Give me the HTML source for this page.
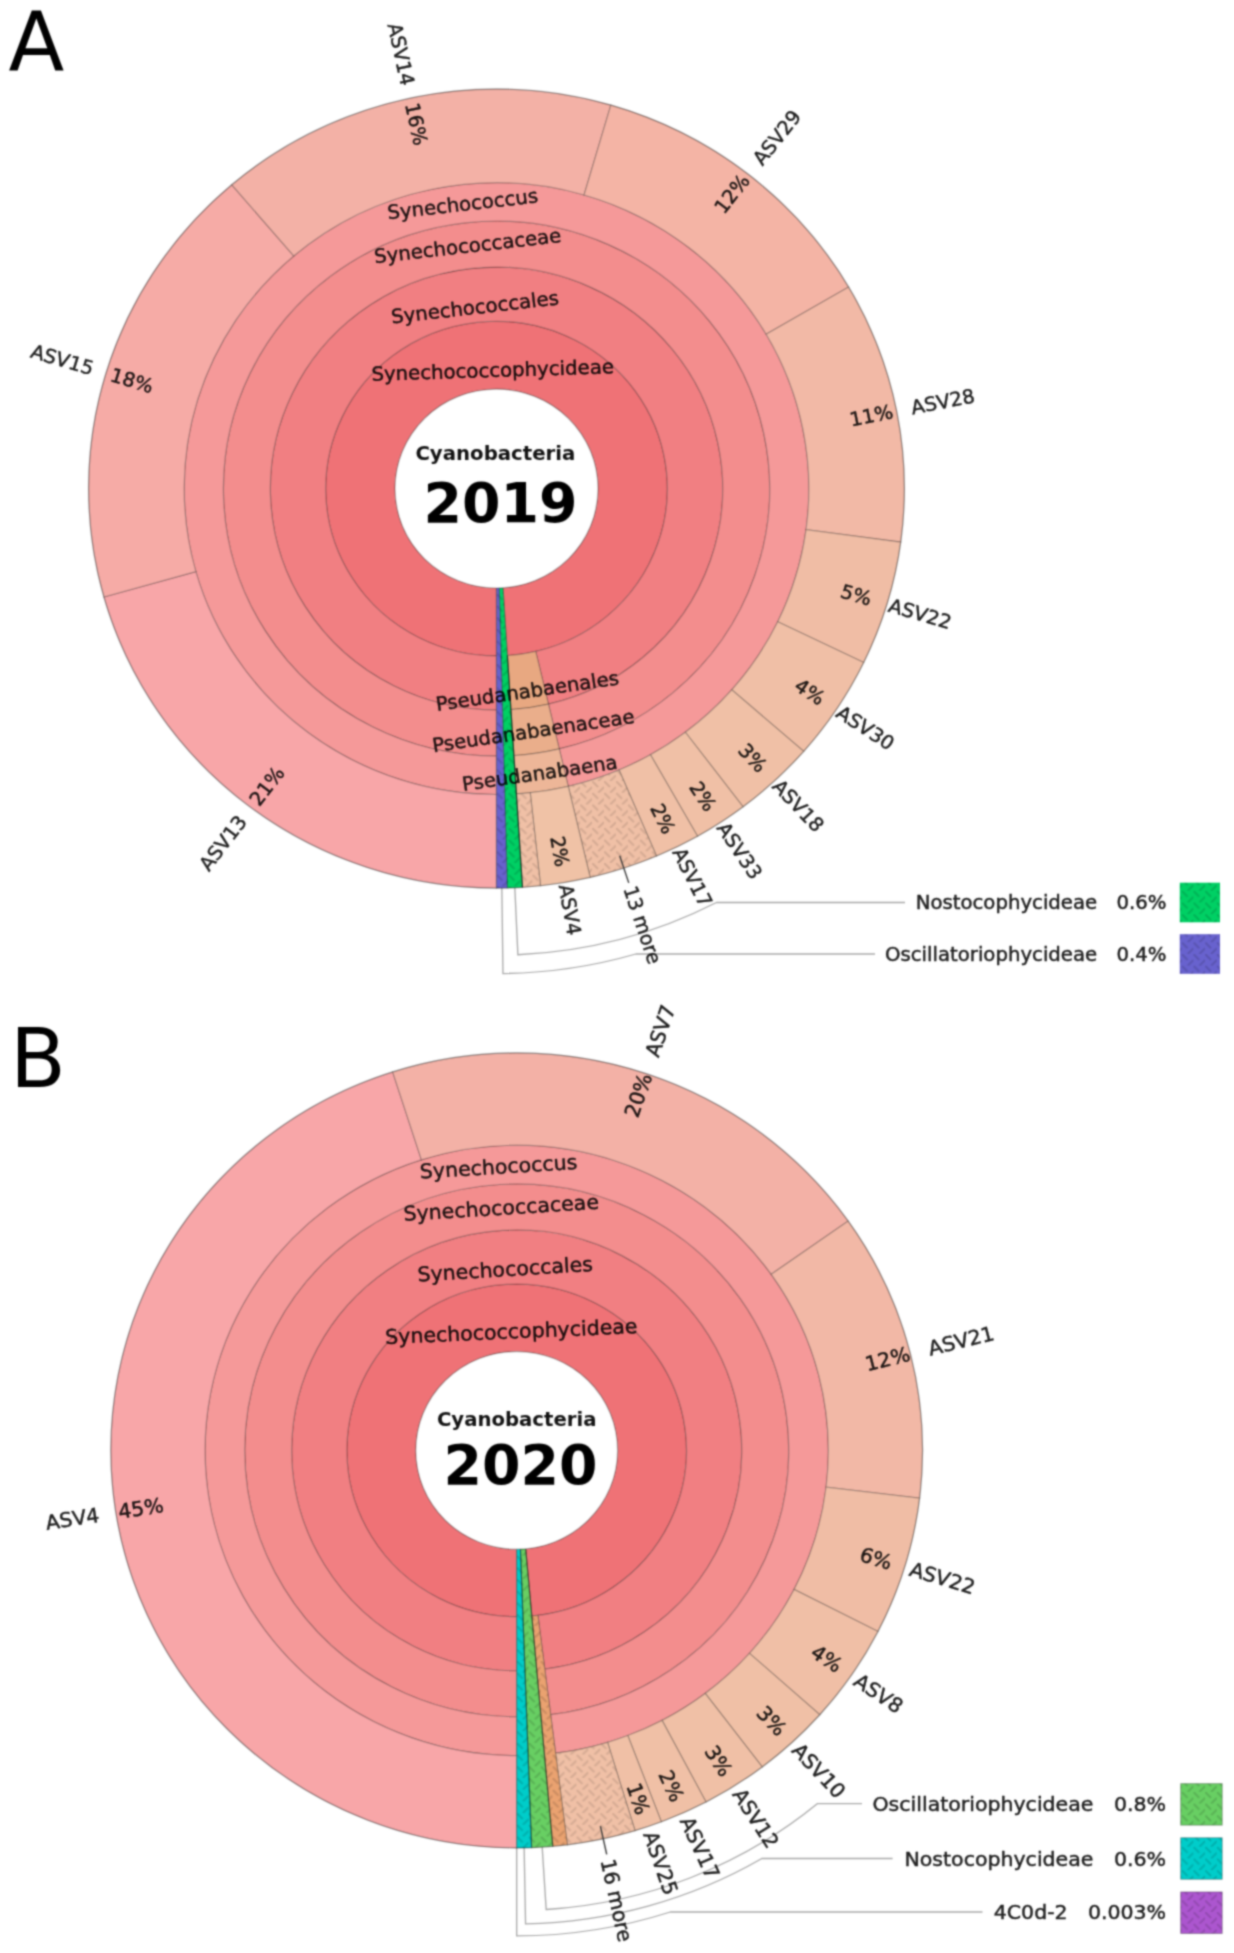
<!DOCTYPE html>
<html lang="en"><head><meta charset="utf-8"><title>Cyanobacteria Krona charts 2019 / 2020</title>
<style>html,body{margin:0;padding:0;background:#fff}svg{display:block}text{white-space:pre}.t text{fill:#000;fill-opacity:.87;stroke:#000;stroke-opacity:.87;stroke-width:0.45px}</style></head><body>
<svg width="1234" height="1953" viewBox="0 0 1234 1953">
<defs>
<pattern id="hp" width="11.7" height="11.7" patternUnits="userSpaceOnUse"><path d="M0.7 0.7L5.3 5.3M6.55 11.15L11.15 6.55" stroke="#000" stroke-opacity="0.115" stroke-width="2.1" stroke-linecap="round" fill="none"/></pattern>
<pattern id="hk" width="11.7" height="11.7" patternUnits="userSpaceOnUse"><path d="M0.7 0.7L5.3 5.3M6.55 11.15L11.15 6.55" stroke="#000" stroke-opacity="0.14" stroke-width="2.1" stroke-linecap="round" fill="none"/></pattern>
<filter id="soft" x="-10" y="-10" width="1254" height="1973" filterUnits="userSpaceOnUse" color-interpolation-filters="sRGB"><feConvolveMatrix order="5" kernelMatrix="0.00090 0.00660 0.01500 0.00660 0.00090 0.00660 0.04840 0.11000 0.04840 0.00660 0.01500 0.11000 0.25000 0.11000 0.01500 0.00660 0.04840 0.11000 0.04840 0.00660 0.00090 0.00660 0.01500 0.00660 0.00090" divisor="1" edgeMode="duplicate" preserveAlpha="true"/></filter>
</defs>
<g filter="url(#soft)">
<rect x="-10" y="-10" width="1254" height="1973" fill="#fff"/>
<g transform="translate(496.5 488.6) scale(1.021 1)" font-family='"DejaVu Sans", "Liberation Sans", sans-serif' font-size="19.3" class="t">
<path d="M17.95 399.1L20.96 466.13A466.6 466.6 0 0 0 215.41 413.9L400.1 413.9" fill="none" stroke="#a9a9a9" stroke-width="1.3"/>
<path d="M5.23 399.47L6.35 484.96A485 485 0 0 0 136.48 465.4L370.71 465.4" fill="none" stroke="#a9a9a9" stroke-width="1.3"/>
<path d="M-0 167.3A167.3 167.3 0 1 1 10.65 166.96L6.33 99.2A99.4 99.4 0 1 0 -0 99.4Z" fill="#EF7276" stroke="#000" stroke-opacity="0.24" stroke-width="1.2"/>
<path d="M-0 221.5A221.5 221.5 0 1 1 50.88 215.58L38.43 162.83A167.3 167.3 0 1 0 -0 167.3Z" fill="#F17F82" stroke="#000" stroke-opacity="0.24" stroke-width="1.2"/>
<path d="M-0 267.5A267.5 267.5 0 1 1 61.45 260.35L50.88 215.58A221.5 221.5 0 1 0 -0 221.5Z" fill="#F38D8D" stroke="#000" stroke-opacity="0.24" stroke-width="1.2"/>
<path d="M-0 305.9A305.9 305.9 0 1 1 70.27 297.72L61.45 260.35A267.5 267.5 0 1 0 -0 267.5Z" fill="#F59999" stroke="#000" stroke-opacity="0.24" stroke-width="1.2"/>
<path d="M50.88 215.58A221.5 221.5 0 0 1 14.1 221.05L10.65 166.96A167.3 167.3 0 0 0 38.43 162.83Z" fill="#E8A881" stroke="#000" stroke-opacity="0.24" stroke-width="1.2"/>
<path d="M61.45 260.35A267.5 267.5 0 0 1 17.03 266.96L14.1 221.05A221.5 221.5 0 0 0 50.88 215.58Z" fill="#EAAE8B" stroke="#000" stroke-opacity="0.24" stroke-width="1.2"/>
<path d="M70.27 297.72A305.9 305.9 0 0 1 19.47 305.28L17.03 266.96A267.5 267.5 0 0 0 61.45 260.35Z" fill="#EDB698" stroke="#000" stroke-opacity="0.24" stroke-width="1.2"/>
<path d="M-0 399.5A399.5 399.5 0 0 1 -384.52 108.37L-294.43 82.98A305.9 305.9 0 0 0 -0 305.9Z" fill="#F8A6A8" stroke="#000" stroke-opacity="0.24" stroke-width="1.2"/>
<path d="M-384.52 108.37A399.5 399.5 0 0 1 -259.35 -303.87L-198.58 -232.68A305.9 305.9 0 0 0 -294.43 82.98Z" fill="#F6ABA6" stroke="#000" stroke-opacity="0.24" stroke-width="1.2"/>
<path d="M-259.35 -303.87A399.5 399.5 0 0 1 111.99 -383.48L85.75 -293.63A305.9 305.9 0 0 0 -198.58 -232.68Z" fill="#F3B1A6" stroke="#000" stroke-opacity="0.24" stroke-width="1.2"/>
<path d="M111.99 -383.48A399.5 399.5 0 0 1 344.93 -201.56L264.11 -154.34A305.9 305.9 0 0 0 85.75 -293.63Z" fill="#F4B4A5" stroke="#000" stroke-opacity="0.24" stroke-width="1.2"/>
<path d="M344.93 -201.56A399.5 399.5 0 0 1 395.9 53.53L303.14 40.99A305.9 305.9 0 0 0 264.11 -154.34Z" fill="#F2B9A6" stroke="#000" stroke-opacity="0.24" stroke-width="1.2"/>
<path d="M395.9 53.53A399.5 399.5 0 0 1 359.68 173.87L275.41 133.14A305.9 305.9 0 0 0 303.14 40.99Z" fill="#F0BDA5" stroke="#000" stroke-opacity="0.24" stroke-width="1.2"/>
<path d="M359.68 173.87A399.5 399.5 0 0 1 300.91 262.78L230.41 201.21A305.9 305.9 0 0 0 275.41 133.14Z" fill="#F0BFA6" stroke="#000" stroke-opacity="0.24" stroke-width="1.2"/>
<path d="M300.91 262.78A399.5 399.5 0 0 1 241.54 318.21L184.95 243.66A305.9 305.9 0 0 0 230.41 201.21Z" fill="#F0C0A6" stroke="#000" stroke-opacity="0.24" stroke-width="1.2"/>
<path d="M241.54 318.21A399.5 399.5 0 0 1 196.91 347.6L150.77 266.16A305.9 305.9 0 0 0 184.95 243.66Z" fill="#F0C0A6" stroke="#000" stroke-opacity="0.24" stroke-width="1.2"/>
<path d="M196.91 347.6A399.5 399.5 0 0 1 156.74 367.47L120.02 281.37A305.9 305.9 0 0 0 150.77 266.16Z" fill="#F0C0A6" stroke="#000" stroke-opacity="0.24" stroke-width="1.2"/>
<path d="M156.74 367.47A399.5 399.5 0 0 1 91.77 388.82L70.27 297.72A305.9 305.9 0 0 0 120.02 281.37Z" fill="#F0C0A6" stroke="#000" stroke-opacity="0.24" stroke-width="1.2"/>
<path d="M156.74 367.47A399.5 399.5 0 0 1 91.77 388.82L70.27 297.72A305.9 305.9 0 0 0 120.02 281.37Z" fill="url(#hp)" stroke="none"/>
<path d="M91.77 388.82A399.5 399.5 0 0 1 43.15 397.16L33.04 304.11A305.9 305.9 0 0 0 70.27 297.72Z" fill="#F0C2A6" stroke="#000" stroke-opacity="0.24" stroke-width="1.2"/>
<path d="M43.15 397.16A399.5 399.5 0 0 1 25.43 398.69L19.47 305.28A305.9 305.9 0 0 0 33.04 304.11Z" fill="#F0C0A6" stroke="#000" stroke-opacity="0.24" stroke-width="1.2"/>
<path d="M43.15 397.16A399.5 399.5 0 0 1 25.43 398.69L19.47 305.28A305.9 305.9 0 0 0 33.04 304.11Z" fill="url(#hp)" stroke="none"/>
<path d="M25.43 398.69A399.5 399.5 0 0 1 10.46 399.36L2.6 99.37A99.4 99.4 0 0 0 6.33 99.2Z" fill="#00D064" stroke="#000" stroke-opacity="0.24" stroke-width="1.2"/>
<path d="M25.43 398.69A399.5 399.5 0 0 1 10.46 399.36L2.6 99.37A99.4 99.4 0 0 0 6.33 99.2Z" fill="url(#hk)" stroke="none"/>
<path d="M10.46 399.36A399.5 399.5 0 0 1 0 399.5L0 99.4A99.4 99.4 0 0 0 2.6 99.37Z" fill="#6862CE" stroke="#000" stroke-opacity="0.24" stroke-width="1.2"/>
<path d="M10.46 399.36A399.5 399.5 0 0 1 0 399.5L0 99.4A99.4 99.4 0 0 0 2.6 99.37Z" fill="url(#hk)" stroke="none"/>
<line x1="10.65" y1="166.96" x2="25.43" y2="398.69" stroke="#000" stroke-opacity="0.55" stroke-width="1.2"/>
<circle r="399.5" fill="none" stroke="#000" stroke-opacity="0.24" stroke-width="1.2"/>
<circle r="99.4" fill="#fff" stroke="#000" stroke-opacity="0.24" stroke-width="1.2"/>
<text transform="translate(-32.95 -283.09) rotate(-6.64)" text-anchor="middle" y="5.29">Synechococcus</text>
<text transform="translate(-28.1 -241.37) rotate(-6.64)" text-anchor="middle" y="5.29">Synechococcaceae</text>
<text transform="translate(-20.95 -179.98) rotate(-6.64)" text-anchor="middle" y="5.29">Synechococcales</text>
<text transform="translate(-3.73 -116.94) rotate(-1.82)" text-anchor="middle" y="5.29">Synechococcophycideae</text>
<text transform="translate(30.32 203.76) rotate(-8.46)" text-anchor="middle" y="5.29">Pseudanabaenales</text>
<text transform="translate(36.26 243.62) rotate(-8.46)" text-anchor="middle" y="5.29">Pseudanabaenaceae</text>
<text transform="translate(42.54 285.85) rotate(-8.46)" text-anchor="middle" y="5.29">Pseudanabaena</text>
<g transform="rotate(-52.87)">
<text x="-351.5" y="7.04" text-anchor="end">ASV13   21%</text>
</g>
<g transform="rotate(16.89)">
<text x="-351.5" y="7.04" text-anchor="end">ASV15   18%</text>
</g>
<g transform="rotate(77.9)">
<text x="-351.5" y="7.04" text-anchor="end">ASV14   16%</text>
</g>
<g transform="rotate(-52.01)">
<text x="352.8" y="7.04" text-anchor="start">12%   ASV29</text>
</g>
<g transform="rotate(-11.3)">
<text x="352.8" y="7.04" text-anchor="start">11%   ASV28</text>
</g>
<g transform="rotate(16.75)">
<text x="352.8" y="7.04" text-anchor="start">5%   ASV22</text>
</g>
<g transform="rotate(33.47)">
<text x="352.8" y="7.04" text-anchor="start">4%   ASV30</text>
</g>
<g transform="rotate(46.97)">
<text x="352.8" y="7.04" text-anchor="start">3%   ASV18</text>
</g>
<g transform="rotate(56.64)">
<text x="352.8" y="7.04" text-anchor="start">2%   ASV33</text>
</g>
<g transform="rotate(63.69)">
<text x="352.8" y="7.04" text-anchor="start">2%   ASV17</text>
</g>
<g transform="rotate(71.81)">
<line x1="386.5" y1="0" x2="415" y2="0" stroke="#3a3a3a" stroke-width="1.4"/>
<text x="418.8" y="7.04" text-anchor="start">13 more</text>
</g>
<g transform="rotate(80.26)">
<text x="352.8" y="7.04" text-anchor="start">2%   ASV4</text>
</g>
</g>
<text x="495.4" y="460.2" text-anchor="middle" font-family='"DejaVu Sans", "Liberation Sans", sans-serif' font-weight="bold" font-size="19.3" fill="#111" textLength="160" lengthAdjust="spacingAndGlyphs">Cyanobacteria</text>
<text x="500.6" y="521.8" text-anchor="middle" font-family='"DejaVu Sans", "Liberation Sans", sans-serif' font-weight="bold" font-size="54.5" fill="#000" textLength="154" lengthAdjust="spacingAndGlyphs">2019</text>
<g font-family='"DejaVu Sans", "Liberation Sans", sans-serif' font-size="19.3" class="t" transform="translate(0 902.5)">
<text transform="translate(1097.2 6.95) scale(1.021 1)" text-anchor="end">Nostocophycideae</text>
<text transform="translate(1166.5 6.95) scale(1.021 1)" text-anchor="end">0.6%</text>
<rect x="1179.8" y="-19.8" width="40.2" height="39.6" fill="#00D064"/>
<rect x="1179.8" y="-19.8" width="40.2" height="39.6" fill="url(#hk)"/>
</g>
<g font-family='"DejaVu Sans", "Liberation Sans", sans-serif' font-size="19.3" class="t" transform="translate(0 954)">
<text transform="translate(1097.2 6.95) scale(1.021 1)" text-anchor="end">Oscillatoriophycideae</text>
<text transform="translate(1166.5 6.95) scale(1.021 1)" text-anchor="end">0.4%</text>
<rect x="1179.8" y="-19.8" width="40.2" height="39.6" fill="#6862CE"/>
<rect x="1179.8" y="-19.8" width="40.2" height="39.6" fill="url(#hk)"/>
</g>
<g transform="translate(516.7 1450.4) scale(1.021 1)" font-family='"DejaVu Sans", "Liberation Sans", sans-serif' font-size="20.1" class="t">
<path d="M24.96 396.72L28.88 459.09A460 460 0 0 0 294.7 353.2L338.2 353.2" fill="none" stroke="#a9a9a9" stroke-width="1.3"/>
<path d="M7.28 397.43L8.68 473.42A473.5 473.5 0 0 0 240.12 408.1L368.17 408.1" fill="none" stroke="#a9a9a9" stroke-width="1.3"/>
<path d="M0 397.5L0 485.5A485.5 485.5 0 0 0 150.45 461.6L456.22 461.6" fill="none" stroke="#a9a9a9" stroke-width="1.3"/>
<path d="M-0 166.3A166.3 166.3 0 1 1 14.78 165.64L8.78 98.41A98.8 98.8 0 1 0 -0 98.8Z" fill="#EF7276" stroke="#000" stroke-opacity="0.24" stroke-width="1.2"/>
<path d="M-0 220.4A220.4 220.4 0 1 1 27.51 218.68L20.76 165A166.3 166.3 0 1 0 -0 166.3Z" fill="#F17F82" stroke="#000" stroke-opacity="0.24" stroke-width="1.2"/>
<path d="M-0 266.4A266.4 266.4 0 1 1 33.25 264.32L27.51 218.68A220.4 220.4 0 1 0 -0 220.4Z" fill="#F38D8D" stroke="#000" stroke-opacity="0.24" stroke-width="1.2"/>
<path d="M-0 305.2A305.2 305.2 0 1 1 38.09 302.81L33.25 264.32A266.4 266.4 0 1 0 -0 266.4Z" fill="#F59999" stroke="#000" stroke-opacity="0.24" stroke-width="1.2"/>
<path d="M-0 397.5A397.5 397.5 0 0 1 -121.51 -378.47L-93.3 -290.59A305.2 305.2 0 0 0 -0 305.2Z" fill="#F8A6A8" stroke="#000" stroke-opacity="0.24" stroke-width="1.2"/>
<path d="M-121.51 -378.47A397.5 397.5 0 0 1 324.7 -229.3L249.3 -176.06A305.2 305.2 0 0 0 -93.3 -290.59Z" fill="#F3B1A6" stroke="#000" stroke-opacity="0.24" stroke-width="1.2"/>
<path d="M324.7 -229.3A397.5 397.5 0 0 1 394.62 47.75L302.99 36.67A305.2 305.2 0 0 0 249.3 -176.06Z" fill="#F2B8A6" stroke="#000" stroke-opacity="0.24" stroke-width="1.2"/>
<path d="M394.62 47.75A397.5 397.5 0 0 1 353.86 181.08L271.69 139.03A305.2 305.2 0 0 0 302.99 36.67Z" fill="#F0BDA5" stroke="#000" stroke-opacity="0.24" stroke-width="1.2"/>
<path d="M353.86 181.08A397.5 397.5 0 0 1 296.88 264.33L227.94 202.95A305.2 305.2 0 0 0 271.69 139.03Z" fill="#F0BFA6" stroke="#000" stroke-opacity="0.24" stroke-width="1.2"/>
<path d="M296.88 264.33A397.5 397.5 0 0 1 240.44 316.54L184.61 243.04A305.2 305.2 0 0 0 227.94 202.95Z" fill="#F0C0A6" stroke="#000" stroke-opacity="0.24" stroke-width="1.2"/>
<path d="M240.44 316.54A397.5 397.5 0 0 1 185.39 351.62L142.34 269.97A305.2 305.2 0 0 0 184.61 243.04Z" fill="#F0C0A6" stroke="#000" stroke-opacity="0.24" stroke-width="1.2"/>
<path d="M185.39 351.62A397.5 397.5 0 0 1 141.67 371.4L108.78 285.16A305.2 305.2 0 0 0 142.34 269.97Z" fill="#F0C0A6" stroke="#000" stroke-opacity="0.24" stroke-width="1.2"/>
<path d="M141.67 371.4A397.5 397.5 0 0 1 115.89 380.23L88.98 291.94A305.2 305.2 0 0 0 108.78 285.16Z" fill="#F0C0A6" stroke="#000" stroke-opacity="0.24" stroke-width="1.2"/>
<path d="M115.89 380.23A397.5 397.5 0 0 1 49.61 394.39L38.09 302.81A305.2 305.2 0 0 0 88.98 291.94Z" fill="#F0C0A6" stroke="#000" stroke-opacity="0.24" stroke-width="1.2"/>
<path d="M115.89 380.23A397.5 397.5 0 0 1 49.61 394.39L38.09 302.81A305.2 305.2 0 0 0 88.98 291.94Z" fill="url(#hp)" stroke="none"/>
<path d="M49.61 394.39A397.5 397.5 0 0 1 35.34 395.93L14.78 165.64A166.3 166.3 0 0 0 20.76 165Z" fill="#EAA270" stroke="#000" stroke-opacity="0.24" stroke-width="1.2"/>
<path d="M49.61 394.39A397.5 397.5 0 0 1 35.34 395.93L14.78 165.64A166.3 166.3 0 0 0 20.76 165Z" fill="url(#hk)" stroke="none"/>
<path d="M35.34 395.93A397.5 397.5 0 0 1 14.57 397.23L3.62 98.73A98.8 98.8 0 0 0 8.78 98.41Z" fill="#68CF63" stroke="#000" stroke-opacity="0.24" stroke-width="1.2"/>
<path d="M35.34 395.93A397.5 397.5 0 0 1 14.57 397.23L3.62 98.73A98.8 98.8 0 0 0 8.78 98.41Z" fill="url(#hk)" stroke="none"/>
<path d="M14.57 397.23A397.5 397.5 0 0 1 0 397.5L0 98.8A98.8 98.8 0 0 0 3.62 98.73Z" fill="#00CDCA" stroke="#000" stroke-opacity="0.24" stroke-width="1.2"/>
<path d="M14.57 397.23A397.5 397.5 0 0 1 0 397.5L0 98.8A98.8 98.8 0 0 0 3.62 98.73Z" fill="url(#hk)" stroke="none"/>
<line x1="3.62" y1="98.73" x2="14.57" y2="397.23" stroke="#000" stroke-opacity="0.3" stroke-width="1.2"/>
<line x1="8.78" y1="98.41" x2="35.34" y2="395.93" stroke="#000" stroke-opacity="0.4" stroke-width="1.2"/>
<circle r="397.5" fill="none" stroke="#000" stroke-opacity="0.24" stroke-width="1.2"/>
<circle r="98.8" fill="#fff" stroke="#000" stroke-opacity="0.24" stroke-width="1.2"/>
<text transform="translate(-17.68 -282.25) rotate(-3.59)" text-anchor="middle" y="5.51">Synechococcus</text>
<text transform="translate(-15.11 -241.13) rotate(-3.59)" text-anchor="middle" y="5.51">Synechococcaceae</text>
<text transform="translate(-11.26 -179.75) rotate(-3.59)" text-anchor="middle" y="5.51">Synechococcales</text>
<text transform="translate(-5.23 -117.48) rotate(-2.55)" text-anchor="middle" y="5.51">Synechococcophycideae</text>
<g transform="rotate(-8.9)">
<text x="-350.3" y="7.34" text-anchor="end">ASV4   45%</text>
</g>
<g transform="rotate(-71.51)">
<text x="352.2" y="7.34" text-anchor="start">20%   ASV7</text>
</g>
<g transform="rotate(-14.17)">
<text x="352.2" y="7.34" text-anchor="start">12%   ASV21</text>
</g>
<g transform="rotate(17)">
<text x="352.2" y="7.34" text-anchor="start">6%   ASV22</text>
</g>
<g transform="rotate(34.39)">
<text x="352.2" y="7.34" text-anchor="start">4%   ASV8</text>
</g>
<g transform="rotate(47.23)">
<text x="352.2" y="7.34" text-anchor="start">3%   ASV10</text>
</g>
<g transform="rotate(57.49)">
<text x="352.2" y="7.34" text-anchor="start">3%   ASV12</text>
</g>
<g transform="rotate(65.66)">
<text x="352.2" y="7.34" text-anchor="start">2%   ASV17</text>
</g>
<g transform="rotate(71.09)">
<text x="352.2" y="7.34" text-anchor="start">1%   ASV25</text>
</g>
<g transform="rotate(77.69)">
<line x1="384.5" y1="0" x2="413.5" y2="0" stroke="#3a3a3a" stroke-width="1.4"/>
<text x="418.5" y="7.34" text-anchor="start">16 more</text>
</g>
</g>
<text x="516.7" y="1426.3" text-anchor="middle" font-family='"DejaVu Sans", "Liberation Sans", sans-serif' font-weight="bold" font-size="19.3" fill="#111" textLength="159.5" lengthAdjust="spacingAndGlyphs">Cyanobacteria</text>
<text x="520.6" y="1484.2" text-anchor="middle" font-family='"DejaVu Sans", "Liberation Sans", sans-serif' font-weight="bold" font-size="54.5" fill="#000" textLength="154" lengthAdjust="spacingAndGlyphs">2020</text>
<g font-family='"DejaVu Sans", "Liberation Sans", sans-serif' font-size="20.1" class="t" transform="translate(0 1803.6)">
<text transform="translate(1093.4 7.24) scale(1.021 1)" text-anchor="end">Oscillatoriophycideae</text>
<text transform="translate(1166.1 7.24) scale(1.021 1)" text-anchor="end">0.8%</text>
<rect x="1180.7" y="-19.95" width="41.5" height="41.5" fill="#68CF63" stroke="#000" stroke-opacity="0.3" stroke-width="1"/>
<rect x="1180.7" y="-19.95" width="41.5" height="41.5" fill="url(#hk)"/>
</g>
<g font-family='"DejaVu Sans", "Liberation Sans", sans-serif' font-size="20.1" class="t" transform="translate(0 1858.5)">
<text transform="translate(1093.4 7.24) scale(1.021 1)" text-anchor="end">Nostocophycideae</text>
<text transform="translate(1166.1 7.24) scale(1.021 1)" text-anchor="end">0.6%</text>
<rect x="1180.7" y="-20.75" width="41.5" height="41.5" fill="#00CDCA" stroke="#000" stroke-opacity="0.3" stroke-width="1"/>
<rect x="1180.7" y="-20.75" width="41.5" height="41.5" fill="url(#hk)"/>
</g>
<g font-family='"DejaVu Sans", "Liberation Sans", sans-serif' font-size="20.1" class="t" transform="translate(0 1912)">
<text transform="translate(1067.6 7.24) scale(1.021 1)" text-anchor="end">4C0d-2</text>
<text transform="translate(1166.1 7.24) scale(1.021 1)" text-anchor="end">0.003%</text>
<rect x="1180.7" y="-20.05" width="41.5" height="41.5" fill="#AC56CF" stroke="#000" stroke-opacity="0.3" stroke-width="1"/>
<rect x="1180.7" y="-20.05" width="41.5" height="41.5" fill="url(#hk)"/>
</g>
<text x="8.5" y="70" font-family='"DejaVu Sans", "Liberation Sans", sans-serif' font-size="81.5" fill="#000">A</text>
<text x="10" y="1087" font-family='"DejaVu Sans", "Liberation Sans", sans-serif' font-size="81.5" fill="#000">B</text>
</g>
</svg></body></html>
